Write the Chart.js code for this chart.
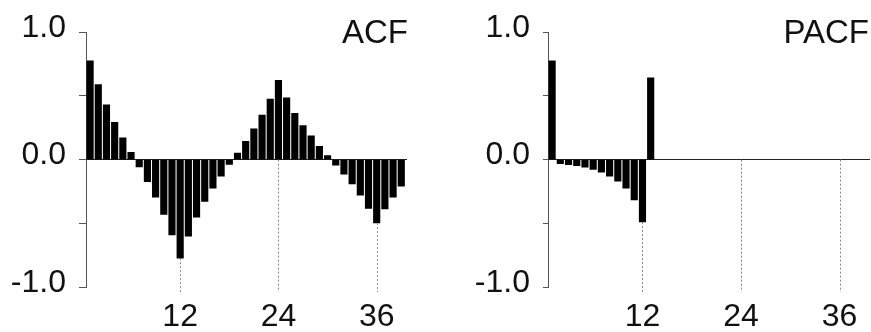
<!DOCTYPE html>
<html>
<head>
<meta charset="utf-8">
<script src="https://cdn.jsdelivr.net/npm/chart.js@4.4.1/dist/chart.umd.min.js"></script>
<style>
    body { margin: 0; background: #fff; }
    #wrap { position: relative; width: 871px; height: 332px; overflow: hidden; }
    .panel { position: absolute; top: 0; }
    .label { position: absolute; top: 15px; font: 33px 'Liberation Sans', Arial, sans-serif; line-height: 33px; color: #111; }
</style>
</head>
<body>
<div id="wrap">
    <canvas id="acfChart" class="panel" width="436" height="332" style="left:0"></canvas>
    <canvas id="pacfChart" class="panel" width="435" height="332" style="left:436px"></canvas>
    <div class="label" style="right:463px">ACF</div>
    <div class="label" style="right:2px">PACF</div>
</div>
<script>
        // Retardos y valores
        const acfLags = [1, 2, 3, 4, 5, 6, 7, 8, 9, 10, 11, 12, 13, 14, 15, 16, 17, 18, 19, 20,
            21, 22, 23, 24, 25, 26, 27, 28, 29, 30, 31, 32, 33, 34, 35, 36, 37, 38, 39];
        const acfValues = [0.776, 0.588, 0.429, 0.293, 0.170, 0.058, -0.058, -0.173, -0.295, -0.431,
            -0.591, -0.774, -0.601, -0.452, -0.329, -0.225, -0.131, -0.037, 0.052, 0.144,
            0.241, 0.350, 0.476, 0.622, 0.484, 0.363, 0.267, 0.186, 0.105, 0.031,
            -0.044, -0.115, -0.191, -0.280, -0.384, -0.497, -0.387, -0.295, -0.209];

        const pacfLags = [1, 2, 3, 4, 5, 6, 7, 8, 9, 10, 11, 12, 13];
        const pacfValues = [0.776, -0.031, -0.039, -0.047, -0.060, -0.078, -0.099, -0.131, -0.170,
            -0.225, -0.316, -0.489, 0.641];

        const xTickLags = [12, 24, 36];
        const yTickValues = [-1, -0.5, 0, 0.5, 1];

        const fontFamily = "'Liberation Sans', Arial, sans-serif";

        // Líneas punteadas en los retardos estacionales
        const seasonalLines = {
            id: 'seasonalLines',
            afterDatasetsDraw(chart) {
                const ctx = chart.ctx;
                const x = chart.scales.x;
                const y = chart.scales.y;
                const ds = chart.data.datasets[0].data;
                ctx.save();
                ctx.strokeStyle = '#888';
                ctx.lineWidth = 1;
                ctx.setLineDash([2, 2]);
                xTickLags.forEach(lag => {
                    const p = ds.find(d => d.x === lag);
                    const v = p ? Math.min(0, p.y) : 0;
                    const px = Math.round(x.getPixelForValue(lag)) + 0.5;
                    ctx.beginPath();
                    ctx.moveTo(px, y.getPixelForValue(v));
                    ctx.lineTo(px, chart.chartArea.bottom + 5);
                    ctx.stroke();
                });
                ctx.restore();
            }
        };

        function makeConfig(lags, values, axisWidth, tickLen, padRight) {
            return {
                type: 'bar',
                data: {
                    datasets: [{
                        data: lags.map((l, i) => ({ x: l, y: values[i] })),
                        backgroundColor: '#000',
                        borderWidth: 0,
                        barThickness: 6.5
                    }]
                },
                options: {
                    responsive: false,
                    animation: false,
                    layout: { padding: { top: 32, right: padRight, bottom: 0, left: 0 } },
                    plugins: { legend: { display: false }, tooltip: { enabled: false } },
                    scales: {
                        x: {
                            type: 'linear',
                            min: 0.5,
                            max: 39.7,
                            offset: false,
                            afterBuildTicks: s => { s.ticks = xTickLags.map(v => ({ value: v })); },
                            afterFit: s => { s.height = 45; },
                            grid: { display: false },
                            border: { display: false },
                            ticks: {
                                autoSkip: false,
                                maxRotation: 0,
                                padding: 3,
                                color: '#111',
                                font: { family: fontFamily, size: 32 },
                                callback: v => String(v)
                            }
                        },
                        y: {
                            min: -1,
                            max: 1,
                            afterBuildTicks: s => { s.ticks = yTickValues.map(v => ({ value: v })); },
                            afterFit: s => { s.width = axisWidth; },
                            grid: {
                                color: c => (c.tick && c.tick.value === 0 ? '#222' : 'rgba(0,0,0,0)'),
                                tickColor: '#555',
                                tickLength: tickLen
                            },
                            border: { display: true, color: '#555', width: 1 },
                            ticks: {
                                padding: 13,
                                labelOffset: -4,
                                color: '#111',
                                font: { family: fontFamily, size: 32 },
                                callback: v => (Number.isInteger(v) ? v.toFixed(1) : '')
                            }
                        }
                    }
                },
                plugins: [seasonalLines]
            };
        }

        const acfChart = new Chart(
            document.getElementById('acfChart'),
            makeConfig(acfLags, acfValues, 86, 7, 29)
        );

        const pacfChart = new Chart(
            document.getElementById('pacfChart'),
            makeConfig(pacfLags, pacfValues, 112, 5, 1)
        );
</script>
</body>
</html>
